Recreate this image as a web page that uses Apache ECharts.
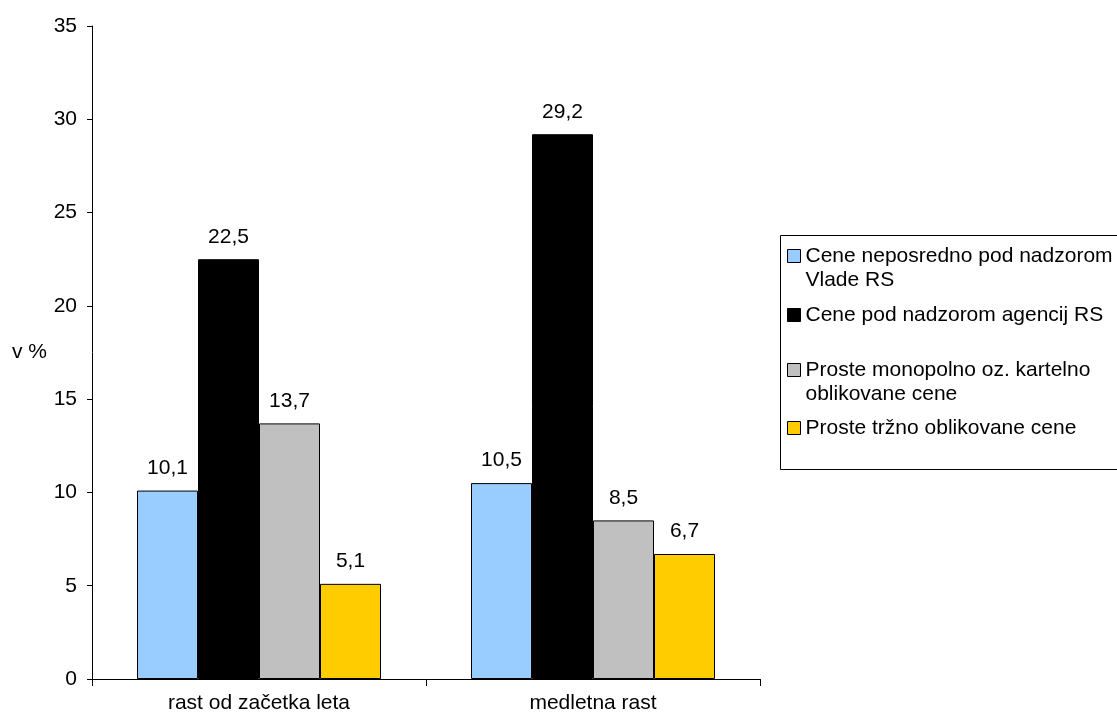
<!DOCTYPE html>
<html><head><meta charset="utf-8">
<script src="https://cdn.jsdelivr.net/npm/echarts@6/dist/echarts.min.js"></script>
<style>html,body{margin:0;padding:0;background:#fff}#c{width:1117px;height:718px}</style>
</head><body><div id="c"></div>
<script>
const categories = ['rast od začetka leta', 'medletna rast'];
const seriesNames = ['Cene neposredno pod nadzorom\nVlade RS', 'Cene pod nadzorom agencij RS', 'Proste monopolno oz. kartelno\noblikovane cene', 'Proste tržno oblikovane cene'];
const govRegulated = [10.1, 10.5];
const agencyRegulated = [22.5, 29.2];
const monopolyPrices = [13.7, 8.5];
const marketPrices = [5.1, 6.7];
const seriesColors = ['#99CCFF', '#000000', '#C0C0C0', '#FFCC00'];
const yAxisName = 'v %';
const yMin = 0, yMax = 35, yStep = 5;

const FONT = "'Liberation Sans', Arial, sans-serif";
const FS = 21;
const seriesData = [govRegulated, agencyRegulated, monopolyPrices, marketPrices];
const legendCenters = [256, 315, 370, 428];

const chart = echarts.init(document.getElementById('c'), null, {renderer: 'canvas'});
const fmt = v => String(v).replace('.', ',');

const legends = seriesNames.map((name, i) => {
  const twoLine = name.indexOf('\n') >= 0;
  return {
    data: [name],
    orient: 'vertical',
    left: 787,
    top: legendCenters[i] - (twoLine ? 36 : 12),
    padding: 0,
    icon: 'rect',
    itemWidth: 13,
    itemHeight: 13,
    selectedMode: false,
    itemStyle: {borderColor: '#000', borderWidth: 1},
    formatter: n => (n.indexOf('\n') >= 0 ? '\u00a0\n' + n : n),
    textStyle: {fontFamily: FONT, fontSize: FS, color: '#000', lineHeight: 24}
  };
});

chart.setOption({
  animation: false,
  backgroundColor: '#fff',
  textStyle: {fontFamily: FONT},
  grid: {left: 92, right: 357, top: 26, bottom: 39},
  legend: legends,
  graphic: [{
    type: 'rect', silent: true, z: -1,
    shape: {x: 780.5, y: 235.5, width: 400, height: 234},
    style: {fill: 'none', stroke: '#000', lineWidth: 1}
  }],
  xAxis: {
    type: 'category',
    data: categories,
    boundaryGap: true,
    axisLine: {lineStyle: {color: '#000', width: 1}},
    axisTick: {show: true, alignWithLabel: false, length: 7, lineStyle: {color: '#000'}},
    axisLabel: {color: '#000', fontSize: FS, fontFamily: FONT, margin: 14}
  },
  yAxis: {
    type: 'value',
    min: yMin, max: yMax, interval: yStep,
    name: yAxisName,
    nameLocation: 'middle',
    nameRotate: 0,
    nameGap: 45,
    nameTextStyle: {color: '#000', fontSize: FS, fontFamily: FONT},
    axisLine: {show: true, lineStyle: {color: '#000', width: 1}},
    axisTick: {show: true, length: 5, lineStyle: {color: '#000'}},
    axisLabel: {color: '#000', fontSize: FS, fontFamily: FONT, margin: 15},
    splitLine: {show: false}
  },
  series: seriesNames.map((name, i) => ({
    type: 'bar',
    name: name,
    data: seriesData[i],
    barWidth: 61,
    barGap: '0%',
    itemStyle: {color: seriesColors[i], borderColor: '#000', borderWidth: 1},
    label: {
      show: true, position: 'top', distance: 12,
      color: '#000', fontSize: FS, fontFamily: FONT,
      formatter: p => fmt(p.value)
    }
  }))
});
</script></body></html>
